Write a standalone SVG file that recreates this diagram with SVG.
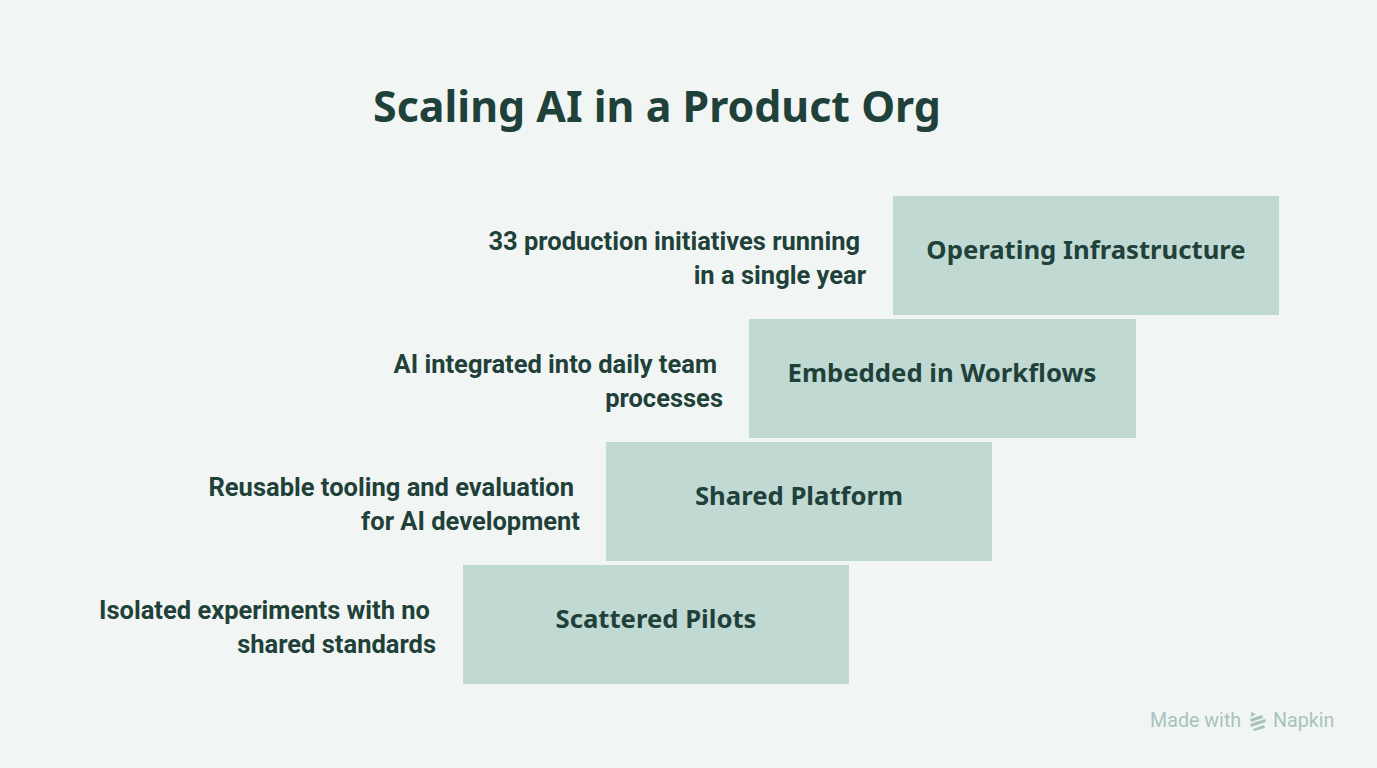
<svg xmlns="http://www.w3.org/2000/svg" width="1377" height="768" viewBox="0 0 1377 768">
<style>
.bg{fill:#f1f6f5}
.box{fill:#c0d9d3}
.title{font-family:"Noto Sans","Open Sans",sans-serif;font-weight:700;font-size:42.9px;fill:#1f4139;text-anchor:middle}
.lbl{font-family:"Noto Sans","Open Sans",sans-serif;font-weight:700;font-size:25.7px;fill:#1f4139;text-anchor:middle}
.desc{font-family:Roboto,"Liberation Sans",sans-serif;font-weight:700;font-size:25.5px;fill:#1f4139;text-anchor:end}
.wm{font-family:Roboto,"Open Sans",sans-serif;font-size:19.7px;fill:#a9c3bc}
</style>
<rect class="bg" x="0" y="0" width="1377" height="768"/>
<text class="title" x="657" y="122">Scaling AI in a Product Org</text>
<g id="node-operating">
<rect class="box" x="893" y="196" width="386" height="119"/>
<text class="lbl" x="1086" y="259">Operating Infrastructure</text>
<text class="desc" x="860" y="250">33 production initiatives running</text>
<text class="desc" x="866" y="284">in a single year</text>
</g>
<g id="node-embedded">
<rect class="box" x="749" y="319" width="387" height="119"/>
<text class="lbl" x="942" y="382">Embedded in Workflows</text>
<text class="desc" x="717" y="373">AI integrated into daily team</text>
<text class="desc" x="723" y="407">processes</text>
</g>
<g id="node-shared">
<rect class="box" x="606" y="442" width="386" height="119"/>
<text class="lbl" x="799" y="505">Shared Platform</text>
<text class="desc" x="574" y="496">Reusable tooling and evaluation</text>
<text class="desc" x="580" y="530">for AI development</text>
</g>
<g id="node-scattered">
<rect class="box" x="463" y="565" width="386" height="119"/>
<text class="lbl" x="656" y="628">Scattered Pilots</text>
<text class="desc" x="430" y="619">Isolated experiments with no</text>
<text class="desc" x="436" y="653">shared standards</text>
</g>
<g id="connectors"></g>
<g id="watermark">
<text class="wm" x="1150" y="727">Made with</text>
<g fill="#a9c3bc">
<polygon points="1251,712 1256,714 1251,717"/>
<polygon points="1250,719 1262,715 1263,718 1251,722"/>
<polygon points="1250,724 1265,719 1266,722 1251,727"/>
<polygon points="1253,729 1264,725 1265,728 1254,731"/>
</g>
<text class="wm" x="1273" y="727">Napkin</text>
</g>
</svg>
